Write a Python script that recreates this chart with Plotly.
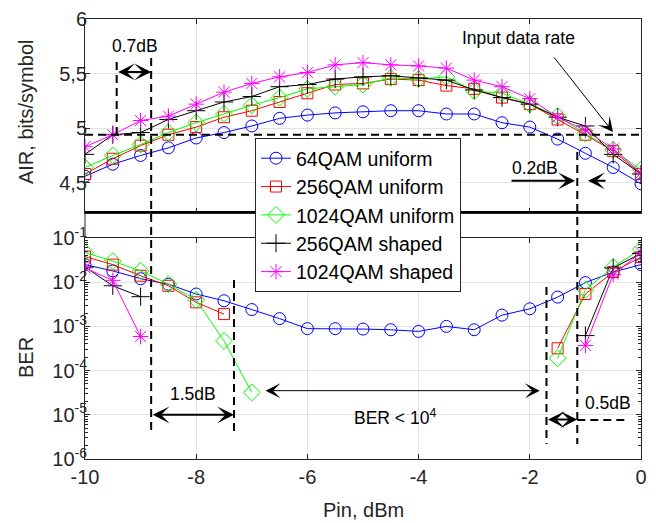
import plotly.graph_objects as go

# ---------------- data ----------------
pin_dbm = [-10, -9.5, -9, -8.5, -8, -7.5, -7, -6.5, -6, -5.5, -5,
           -4.5, -4, -3.5, -3, -2.5, -2, -1.5, -1, -0.5, 0]

air_64qam_u = [4.56, 4.67, 4.75, 4.82, 4.91, 4.96, 5.02, 5.09, 5.12, 5.14, 5.15,
               5.16, 5.16, 5.13, 5.13, 5.05, 5.01, 4.90, 4.77, 4.64, 4.49]
air_256qam_u = [4.58, 4.72, 4.84, 4.94, 5.01, 5.10, 5.16, 5.24, 5.32, 5.40, 5.41,
                5.45, 5.44, 5.39, 5.36, 5.28, 5.22, 5.08, 4.94, 4.79, 4.58]
air_1024qam_u = [4.64, 4.75, 4.85, 4.96, 5.05, 5.13, 5.21, 5.28, 5.36, 5.38, 5.40,
                 5.46, 5.45, 5.47, 5.34, 5.32, 5.22, 5.11, 4.95, 4.80, 4.62]
air_256qam_s = [4.76, 4.94, 4.96, 5.08, 5.16, 5.24, 5.29, 5.38, 5.40, 5.45, 5.47,
                5.48, 5.46, 5.44, 5.35, 5.28, 5.22, 5.10, 5.02, 4.76, 4.58]
air_1024qam_s = [4.83, 4.94, 5.07, 5.11, 5.22, 5.33, 5.41, 5.47, 5.51, 5.58, 5.60,
                 5.58, 5.57, 5.55, 5.44, 5.38, 5.27, 5.10, 4.98, 4.81, 4.59]

N = None
ber_64qam_u = [2.5e-2, 1.8e-2, 1.2e-2, 9.0e-3, 5.4e-3, 3.8e-3, 2.4e-3, 1.5e-3, 8.9e-4, 8.9e-4, 8.7e-4,
               8.4e-4, 7.7e-4, 1.0e-3, 8.4e-4, 1.8e-3, 2.5e-3, 4.6e-3, 9.8e-3, 1.7e-2, 2.5e-2]
ber_256qam_u = [3.8e-2, 2.5e-2, 1.4e-2, 8.3e-3, 3.5e-3, 1.9e-3, N, N, N, N, N,
                N, N, N, N, N, N, 3.2e-4, 5.4e-3, 1.7e-2, 3.7e-2]
ber_1024qam_u = [4.7e-2, 3.0e-2, 1.8e-2, 9.0e-3, 4.0e-3, 4.7e-4, 3.2e-5, N, N, N, N,
                 N, N, N, N, N, N, 1.9e-4, 6.7e-3, 2.2e-2, 5.6e-2]
ber_256qam_s = [2.2e-2, 8.3e-3, 4.7e-3, N, N, N, N, N, N, N, N,
                N, N, N, N, N, N, N, 6.2e-4, 2.1e-2, 4.5e-2]
ber_1024qam_s = [2.1e-2, 1.1e-2, 5.9e-4, N, N, N, N, N, N, N, N,
                 N, N, N, N, N, N, N, 3.7e-4, 1.5e-2, 4.7e-2]

series_names = ["64QAM uniform", "256QAM uniform", "1024QAM uniform",
                "256QAM shaped", "1024QAM shaped"]
air_values = [air_64qam_u, air_256qam_u, air_1024qam_u, air_256qam_s, air_1024qam_s]
ber_values = [ber_64qam_u, ber_256qam_u, ber_1024qam_u, ber_256qam_s, ber_1024qam_s]

air_ticks = [4.5, 5, 5.5, 6]
air_ticktext = ["4,5", "5", "5,5", "6"]
ber_ticks = [1e-6, 1e-5, 1e-4, 1e-3, 1e-2, 1e-1]
ber_ticktext = ["10<sup>-6</sup>", "10<sup>-5</sup>", "10<sup>-4</sup>",
                "10<sup>-3</sup>", "10<sup>-2</sup>", "10<sup>-1</sup>"]
pin_ticks = [-10, -8, -6, -4, -2, 0]
pin_ticktext = ["-10", "-8", "-6", "-4", "-2", "0"]

# ---------------- styles ----------------
colors = ["#0000ff", "#ff0000", "#00ff00", "#000000", "#ff00ff"]
symbols = ["circle-open", "square-open", "diamond-open", "cross-thin-open", "asterisk-open"]
sizes = [12, 11, 13, 13, 13]
FONT = "Liberation Sans, Arial, sans-serif"
AX = "#262626"
GRID = "#e3e3e3"

fig = go.Figure()
for name, c, s, sz, air in zip(series_names, colors, symbols, sizes, air_values):
    fig.add_trace(go.Scatter(x=pin_dbm, y=air, name=name, mode="lines+markers",
                             line=dict(color=c, width=1),
                             marker=dict(symbol=s, size=sz, color=c, line=dict(color=c, width=1)),
                             xaxis="x", yaxis="y"))
for name, c, s, sz, ber in zip(series_names, colors, symbols, sizes, ber_values):
    fig.add_trace(go.Scatter(x=pin_dbm, y=ber, name=name, mode="lines+markers", showlegend=False,
                             connectgaps=False,
                             line=dict(color=c, width=1),
                             marker=dict(symbol=s, size=sz, color=c, line=dict(color=c, width=1)),
                             xaxis="x2", yaxis="y2"))

minor_ber = [m * 10.0 ** e for e in range(-6, -1) for m in range(2, 10)]

common_x = dict(range=[-10, 0], tickvals=pin_ticks, ticks="inside", ticklen=5, tickcolor=AX,
                mirror="ticks", showline=True, linecolor=AX, linewidth=1, automargin=False,
                ticklabeloverflow="allow",
                showgrid=True, gridcolor=GRID, gridwidth=1, zeroline=False)

TOP_BOTTOM = 4.223
TOP_DOMAIN = [0.55909, 1]
BOT_DOMAIN = [0, 0.50227]

fig.update_layout(
    width=656, height=523,
    margin=dict(l=77, r=23, t=11, b=72, autoexpand=False),
    plot_bgcolor="white", paper_bgcolor="white",
    font=dict(family=FONT, size=20, color=AX),
    legend=dict(x=0.3058, y=0.7295, xanchor="left", yanchor="top",
                bgcolor="white", bordercolor=AX, borderwidth=1,
                font=dict(size=19.5, color="black", family=FONT),
                itemwidth=30, tracegroupgap=0),
    xaxis=dict(domain=[0, 1], anchor="y", showticklabels=False, **common_x),
    yaxis=dict(domain=TOP_DOMAIN, anchor="x", range=[TOP_BOTTOM, 6], automargin=False,
               tickvals=air_ticks, ticktext=air_ticktext, ticklabelstandoff=-7,
               ticklabeloverflow="allow",
               ticks="inside", ticklen=5, tickcolor=AX, mirror="ticks",
               showline=True, linecolor=AX, linewidth=1,
               showgrid=True, gridcolor=GRID, zeroline=False),
    xaxis2=dict(domain=[0, 1], anchor="y2", ticktext=pin_ticktext, **common_x),
    yaxis2=dict(domain=BOT_DOMAIN, anchor="x2", type="log", range=[-6, -1], automargin=False,
                tickvals=ber_ticks, ticktext=ber_ticktext, ticklabelstandoff=-7,
                ticklabeloverflow="allow",
                ticks="inside", ticklen=5, tickcolor=AX, mirror="ticks",
                showline=True, linecolor=AX, linewidth=1,
                showgrid=True, gridcolor=GRID, zeroline=False,
                minor=dict(tickvals=minor_ber, ticks="inside", ticklen=3,
                           tickcolor=AX, showgrid=False)),
)

DASH = "8px,5px"
shapes = [
    # thick separator line at the bottom of the AIR panel
    dict(type="line", xref="paper", x0=0, x1=1, yref="y", y0=TOP_BOTTOM, y1=TOP_BOTTOM,
         line=dict(color="black", width=4)),
    # left axis continuation between the panels
    dict(type="line", xref="paper", x0=0, x1=0, yref="paper", y0=BOT_DOMAIN[1], y1=TOP_DOMAIN[0],
         line=dict(color=AX, width=1)),
    # input data rate
    dict(type="line", xref="x", x0=-10, x1=0, yref="y", y0=4.94, y1=4.94,
         line=dict(color="black", width=2, dash=DASH)),
    dict(type="line", xref="x", x0=-9.43, x1=-9.43, yref="y", y0=5.607, y1=4.94,
         line=dict(color="black", width=2, dash=DASH)),
    dict(type="line", xref="x", x0=-8.81, x1=-8.81, yref="paper", y0=0.9114, y1=0.0545,
         line=dict(color="black", width=2, dash=DASH)),
    dict(type="line", xref="x", x0=-7.32, x1=-7.32, yref="paper", y0=0.4068, y1=0.0545,
         line=dict(color="black", width=2, dash=DASH)),
    dict(type="line", xref="x", x0=-1.70, x1=-1.70, yref="paper", y0=0.3909, y1=0.0341,
         line=dict(color="black", width=2, dash=DASH)),
    dict(type="line", xref="x", x0=-1.146, x1=-1.146, yref="paper", y0=0.6977, y1=0.0341,
         line=dict(color="black", width=2, dash=DASH)),
    dict(type="line", xref="x", x0=-1.146, x1=-0.252, yref="paper", y0=0.0886, y1=0.0886,
         line=dict(color="black", width=2, dash=DASH)),
]
fig.update_layout(shapes=shapes)


def harrow(x_head, x_tail, y, yref, width=2, both=True, size=1.4):
    return dict(x=x_head, y=y, xref="x", yref=yref, ax=x_tail, ay=0,
                axref="x", ayref="pixel", text="", showarrow=True,
                arrowhead=3, startarrowhead=3, arrowsize=size, startarrowsize=size,
                arrowwidth=width, arrowcolor="black", standoff=0, startstandoff=0,
                arrowside="end+start" if both else "end")


def label(text, x, y, yref, size=17.5):
    return dict(x=x, y=y, xref="x", yref=yref, text=text, showarrow=False,
                font=dict(size=size, color="black", family=FONT))


def axis_title(text, x, y, angle=0):
    return dict(x=x, y=y, xref="paper", yref="paper", text=text, showarrow=False,
                textangle=angle, xanchor="center", yanchor="middle",
                font=dict(size=20, color=AX, family=FONT))


annotations = [
    axis_title("AIR, bits/symbol", -0.1061, 0.7886, -90),
    axis_title("BER", -0.1061, 0.2295, -90),
    axis_title("Pin, dBm", 0.5, -0.1159),
    harrow(-8.81, -9.43, 5.515, "y"),
    label("0.7dB", -9.10, 5.75, "y"),
    harrow(-7.32, -8.81, -5.0, "y2"),
    label("1.5dB", -8.06, -4.52, "y2"),
    harrow(-1.82, -6.78, -4.454, "y2", width=1, size=2.5),
    label("BER &lt; 10<sup>4</sup>", -4.42, -5.06, "y2"),
    harrow(-1.146, -1.70, -5.108, "y2"),
    label("0.5dB", -0.594, -4.725, "y2"),
    harrow(-1.187, -2.356, 4.518, "y", both=False),
    harrow(-0.953, -0.611, 4.518, "y", both=False),
    label("0.2dB", -1.906, 4.634, "y"),
    label("Input data rate", -2.21, 5.83, "y"),
    dict(x=-0.504, y=4.964, xref="x", yref="y", ax=-1.583, ay=5.661, axref="x", ayref="y",
         text="", showarrow=True, arrowhead=3, arrowsize=2.5, arrowwidth=1,
         arrowcolor="black", standoff=0),
]
fig.update_layout(annotations=annotations)

fig.write_html("out.html")
